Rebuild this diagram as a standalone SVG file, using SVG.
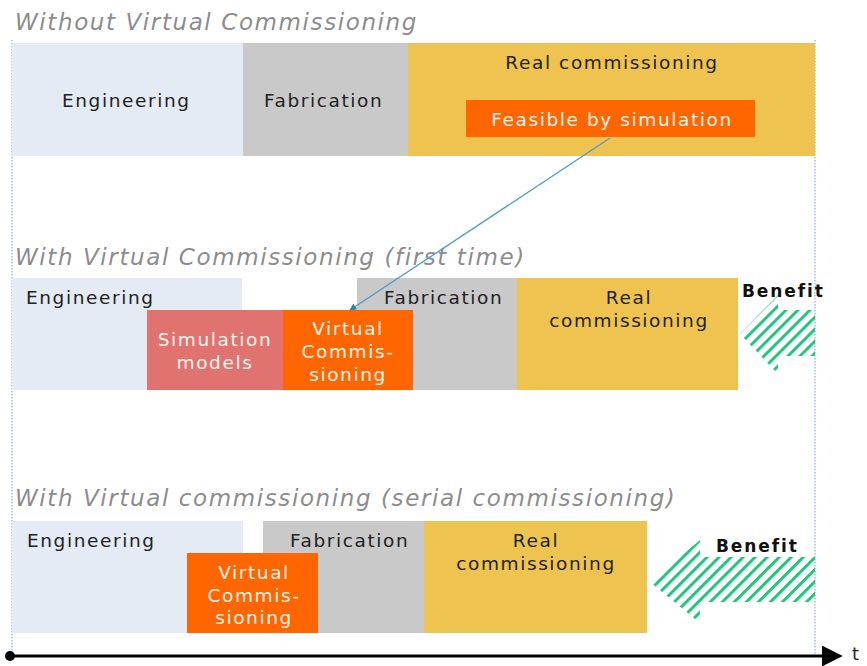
<svg xmlns="http://www.w3.org/2000/svg" width="867" height="666" viewBox="0 0 867 666">
  <style>
    .title { font-family: "DejaVu Sans", Verdana, sans-serif; font-style: italic; font-size: 23px; letter-spacing: 1.6px; fill: #8c8c8c; }
    .lbl { font-family: "DejaVu Sans", Verdana, sans-serif; font-size: 18.5px; letter-spacing: 1.6px; fill: #222; }
    .wlbl { font-family: "DejaVu Sans", Verdana, sans-serif; font-size: 18.5px; letter-spacing: 1.6px; fill: #fff4ec; text-anchor: middle; }
    .mid { text-anchor: middle; }
    .ben { font-family: "DejaVu Sans", Verdana, sans-serif; font-size: 17px; letter-spacing: 1.9px; font-weight: bold; fill: #111; }
    .axis-lbl { font-family: "DejaVu Sans", Verdana, sans-serif; font-size: 18px; fill: #222; }
    .eng { fill: #e4ebf5; }
    .fab { fill: #c9c9c9; }
    .real { fill: #efc34f; }
    .vc { fill: #ff6600; }
    .sim { fill: #e07370; }
    .guide { stroke: #9cc3e0; stroke-width: 1.5; stroke-dasharray: 1.5 1.5; fill: none; }
  </style>
  <defs>
    <pattern id="hatch" patternUnits="userSpaceOnUse" width="8.5" height="8.5" patternTransform="rotate(45)">
      <rect x="0" y="0" width="3" height="8.5" fill="#1ec77a"/>
    </pattern>
    <marker id="blueHead" viewBox="0 0 10 10" refX="9" refY="5" markerWidth="7" markerHeight="7" orient="auto" markerUnits="userSpaceOnUse">
      <path d="M0,0 L10,5 L0,10 z" fill="#2f7fb8"/>
    </marker>
    <marker id="axisHead" viewBox="0 0 10 10" refX="2" refY="5" markerWidth="7" markerHeight="7" orient="auto">
      <path d="M0,0 L10,5 L0,10 z" fill="#000"/>
    </marker>
  </defs>

  <rect width="867" height="666" fill="#ffffff"/>

  <!-- time window guides -->
  <line class="guide" x1="12" y1="40" x2="12" y2="655"/>
  <line class="guide" x1="815" y1="40" x2="815" y2="655"/>

  <!-- Row 1: without virtual commissioning -->
  <text class="title" x="15" y="30">Without Virtual Commissioning</text>
  <g id="r1-engineering">
    <rect class="eng" x="12" y="43" width="231" height="113"/>
    <text class="lbl" x="62" y="107">Engineering</text>
  </g>
  <g id="r1-fabrication">
    <rect class="fab" x="243" y="43" width="165" height="113"/>
    <text class="lbl" x="264" y="107">Fabrication</text>
  </g>
  <g id="r1-real">
    <rect class="real" x="408" y="43" width="407" height="113"/>
    <text class="lbl mid" x="612" y="69">Real commissioning</text>
  </g>
  <g id="r1-feasible">
    <rect class="vc" x="466" y="100" width="289" height="37"/>
    <text class="wlbl" x="612" y="126">Feasible by simulation</text>
  </g>

  <!-- Row 2: first time -->
  <text class="title" x="15" y="265">With Virtual Commissioning (first time)</text>
  <g id="r2-engineering">
    <rect class="eng" x="12" y="278" width="230" height="112"/>
    <text class="lbl" x="26" y="304">Engineering</text>
  </g>
  <g id="r2-fabrication">
    <rect class="fab" x="357" y="278" width="160" height="112"/>
    <text class="lbl" x="384" y="304">Fabrication</text>
  </g>
  <g id="r2-real">
    <rect class="real" x="517" y="278" width="221" height="112"/>
    <text class="lbl mid" x="629" y="304">Real</text>
    <text class="lbl mid" x="629" y="327">commissioning</text>
  </g>
  <g id="r2-simulation">
    <rect class="sim" x="147" y="310" width="136" height="80"/>
    <text class="wlbl" x="215" y="346">Simulation</text>
    <text class="wlbl" x="215" y="369">models</text>
  </g>
  <g id="r2-virtual">
    <rect class="vc" x="283" y="310" width="130" height="80"/>
    <text class="wlbl" x="348" y="335">Virtual</text>
    <text class="wlbl" x="348" y="358">Commis-</text>
    <text class="wlbl" x="348" y="381">sioning</text>
  </g>
  <g id="r2-benefit">
    <path d="M740,334 L778,295 L778,310 L815,310 L815,356 L778,356 L778,374 Z" fill="url(#hatch)"/>
    <text class="ben" x="742" y="297">Benefit</text>
  </g>

  <!-- Row 3: serial commissioning -->
  <text class="title" x="15" y="506">With Virtual commissioning (serial commissioning)</text>
  <g id="r3-engineering">
    <rect class="eng" x="12" y="521" width="231" height="112"/>
    <text class="lbl" x="27" y="547">Engineering</text>
  </g>
  <g id="r3-fabrication">
    <rect class="fab" x="263" y="521" width="161" height="112"/>
    <text class="lbl" x="290" y="547">Fabrication</text>
  </g>
  <g id="r3-real">
    <rect class="real" x="424" y="521" width="223" height="112"/>
    <text class="lbl mid" x="536" y="547">Real</text>
    <text class="lbl mid" x="536" y="570">commissioning</text>
  </g>
  <g id="r3-virtual">
    <rect class="vc" x="187" y="553" width="131" height="80"/>
    <text class="wlbl" x="254" y="579">Virtual</text>
    <text class="wlbl" x="254" y="602">Commis-</text>
    <text class="wlbl" x="254" y="624">sioning</text>
  </g>
  <g id="r3-benefit">
    <path d="M650,582 L700,540 L700,557 L815,557 L815,602 L700,602 L700,623 Z" fill="url(#hatch)"/>
    <text class="ben" x="716" y="552">Benefit</text>
  </g>

  <!-- connectors -->
  <g id="connectors">
    <line x1="610" y1="138" x2="350" y2="310" stroke="#4a9cc9" stroke-width="1.3" marker-end="url(#blueHead)"/>
    <circle cx="10" cy="656" r="5" fill="#000"/>
    <line x1="10" y1="656" x2="826" y2="656" stroke="#000" stroke-width="3" marker-end="url(#axisHead)"/>
  </g>
  <text class="axis-lbl" x="852" y="660">t</text>
</svg>
